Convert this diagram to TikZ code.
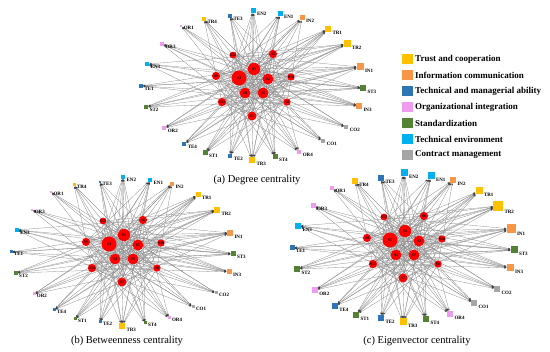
\documentclass[tikz,border=0pt]{standalone}
\usepackage{fontspec}
\setmainfont{Liberation Serif}
\usepackage{xcolor}
\usetikzlibrary{arrows.meta,backgrounds}

\definecolor{trustc}{HTML}{FFC000}
\definecolor{infoc}{HTML}{F79646}
\definecolor{techc}{HTML}{2E75B6}
\definecolor{orgc}{HTML}{F09AF0}
\definecolor{standc}{HTML}{548235}
\definecolor{envc}{HTML}{00B0F0}
\definecolor{contc}{HTML}{A5A5A5}

\begin{document}
\begin{tikzpicture}[x=1pt, y=-1pt,
  snode/.style={circle, fill=red, inner sep=0pt, font=\fontsize{4}{4.5}\selectfont\bfseries},
  fnode/.style={rectangle, inner sep=0pt},
  lbl/.style={inner sep=0.3pt, anchor=west, font=\fontsize{5}{6}\selectfont\bfseries},
  edge/.style={-{Stealth[length=2.2pt,width=1.6pt,color=black!75]}, draw=black!45, line width=0.3pt},
  key/.style={rectangle, inner sep=0pt, minimum width=11pt, minimum height=10pt},
  keytext/.style={anchor=west, inner sep=0pt, font=\fontsize{9}{10}\selectfont\bfseries},
  captext/.style={font=\fontsize{10.5}{12}\selectfont}]
\useasboundingbox (0,0) rectangle (550,352);

% the three panels share one layout, only the sizes change
\foreach \p/\dx/\dy/\k in {a/0/0/0, b/-130/166/1, c/151/162/2} {
  \begin{scope}[shift={(\dx,\dy)}]
  % influencing factors
  \foreach \s/\x/\y/\dm in {1/254/69/12.4, 2/268/79/11, 3/239/78/15, 4/245/93/10.8,
      5/263/93/11, 6/273/54/8.2, 7/252/116/9, 8/287/102/7.4, 9/216/76/8.2,
      10/291/77/7.4, 11/222/102/8.4, 12/233/55/6.8}
    \node[snode, minimum size=\dm pt] (\p-S\s) at (\x,\y) {S\s};
  % indicators round the ring
  \foreach \n/\x/\y/\c/\sa/\sb/\sc in {TR4/204/19/trustc/4/3/5.5, TE3/230/16/techc/4/2.5/6,
      EN2/253/11/envc/5/4.3/7, EN1/280/14/envc/5/4.3/7, IN2/302/18/infoc/5/4/6,
      TR1/328/29/trustc/6/5/7, TR2/347/44/trustc/7/6/10, IN1/360/67/infoc/7/6/9,
      ST3/363/88/standc/6/5/7, IN3/359/106/infoc/6/5/7, CO2/346/127/contc/4.5/3/6,
      CO1/323/141/contc/4.5/3/6, OR4/299/152/orgc/4.5/3/6, ST4/275/157/standc/5/3/6,
      TR3/252/160/trustc/6/6/7, TE2/230/156/techc/4.5/3/6, ST1/205/153/standc/5/3/6,
      TE4/184/144/techc/4.5/3/5.5, OR2/164/128/orgc/4.5/3/5.5, ST2/146/107/standc/4.5/3.5/6,
      TE1/141/86/techc/4/3/5, EN3/147/64/envc/4.5/3.5/6, OR3/162/44/orgc/4/2.5/5,
      OR1/181/26/orgc/2.5/2/4} {
    \pgfmathsetmacro\sz{{\sa,\sb,\sc}[\k]}
    \node[fnode, fill=\c, minimum size=\sz pt] (\p-\n) at (\x,\y) {};
    \node[lbl] (\p-\n-t) at ([xshift=0.8pt,yshift=-0.6pt]\p-\n.south east) {\n};
  }
  % links
  \begin{pgfonlayer}{background}
  \foreach \o/\ss in {TR4/{1,3,5,7,8,11}, TE3/{3,4,5,7,10,2}, EN2/{1,2,3,4,7,11,5},
      EN1/{2,3,4,5,9,11,7}, IN2/{1,3,4,5,8,11,9}, TR1/{1,2,3,4,5,7,9,11},
      TR2/{1,2,3,4,5,6,9,11,12}, IN1/{1,2,3,4,5,7,9,11,12}, ST3/{1,2,3,4,5,9,11,12},
      IN3/{1,2,3,4,5,9,11,12}, CO2/{3,4,9,11,12,1}, CO1/{1,3,9,11,12,4}, OR4/{1,3,6,9,12,11},
      ST4/{1,2,3,6,9,12}, TR3/{1,2,3,6,8,9,10,12}, TE2/{1,2,6,10,12,3}, ST1/{1,2,5,6,8,10},
      TE4/{1,2,6,8,10,5}, OR2/{1,2,5,6,10,8}, ST2/{1,2,5,8,10,6}, TE1/{2,5,8,10,1},
      EN3/{2,5,6,8,10,7}, OR3/{2,5,8,10,7}, OR1/{2,5,7,8}}
    \foreach \s in \ss
      \draw[edge] (\p-S\s) -- (\p-\o);
  \end{pgfonlayer}
  \end{scope}
}

% legend
\foreach \i/\c/\t in {0/trustc/Trust and cooperation, 1/infoc/Information communication,
    2/techc/Technical and managerial ability, 3/orgc/Organizational integration,
    4/standc/Standardization, 5/envc/Technical environment, 6/contc/Contract management} {
  \node[key, fill=\c] (key\i) at (407,{59+16*\i}) {};
  \node[keytext] (keyt\i) at (415,{59+16*\i}) {\t};
}

\node[captext] (capa) at (257,180) {(a) Degree centrality};
\node[captext] (capb) at (127,341) {(b) Betweenness centrality};
\node[captext] (capc) at (417,341) {(c) Eigenvector centrality};
\end{tikzpicture}
\end{document}
